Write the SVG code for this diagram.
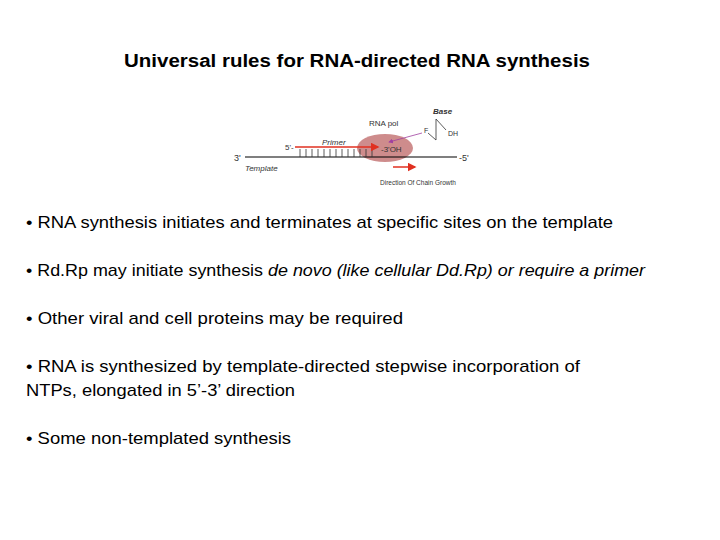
<svg xmlns="http://www.w3.org/2000/svg" width="720" height="540" viewBox="0 0 720 540">
<style>
.t{font-family:"Liberation Sans",Arial,sans-serif;font-size:17px;fill:#000}
.s{font-family:"Liberation Sans",Arial,sans-serif;fill:#333}
</style>
<defs>
<marker id="ar" markerWidth="6" markerHeight="6" refX="5" refY="3" orient="auto"><path d="M0,0L6,3L0,6z" fill="#e03020"/></marker>
<marker id="ap" markerWidth="6" markerHeight="6" refX="5" refY="3" orient="auto"><path d="M0,0L6,3L0,6z" fill="#a040a0"/></marker>
</defs>
<rect width="720" height="540" fill="#fff"/>
<text x="357" y="67" text-anchor="middle" font-family="Liberation Sans,Arial,sans-serif" font-weight="bold" font-size="18" textLength="466" lengthAdjust="spacingAndGlyphs">Universal rules for RNA-directed RNA synthesis</text>
<g id="figure">
<ellipse cx="385" cy="148" rx="28" ry="14" fill="#c98080" opacity="0.9"/>
<line x1="245" y1="157" x2="457" y2="157" stroke="#000" stroke-width="1.2"/>
<path d="M300,149v8M306,149v8M312,149v8M318,149v8M324,149v8M330,149v8M336,149v8M342,149v8M348,149v8M354,149v8M360,149v8M366,149v8M372,149v8" stroke="#333" stroke-width="0.8"/>
<line x1="295" y1="147" x2="378" y2="147" stroke="#e03020" stroke-width="1.5" marker-end="url(#ar)"/>
<line x1="393" y1="167" x2="415" y2="167" stroke="#e03020" stroke-width="1.5" marker-end="url(#ar)"/>
<line x1="422" y1="133" x2="389" y2="142" stroke="#a040a0" stroke-width="0.8" marker-end="url(#ap)"/>
<polyline points="446,130 436,119 436,140 428,133" fill="none" stroke="#333" stroke-width="0.8"/>
<text class="s" x="234" y="161" font-size="9">3'</text>
<text class="s" x="459" y="161" font-size="9">-5'</text>
<text class="s" x="285" y="150" font-size="8">5'-</text>
<text class="s" x="322" y="145" font-size="8" font-style="italic">Primer</text>
<text class="s" x="381" y="152" font-size="8">-3'OH</text>
<text class="s" x="369" y="126" font-size="8">RNA pol</text>
<text class="s" x="433" y="114" font-size="8" font-weight="bold" font-style="italic">Base</text>
<text class="s" x="424" y="133" font-size="7">F</text>
<text class="s" x="448" y="136" font-size="7">DH</text>
<text class="s" x="245" y="171" font-size="8" font-style="italic">Template</text>
<text class="s" x="380" y="185" font-size="6.5">Direction Of Chain Growth</text>
</g>
<text class="t" x="26" y="228" textLength="587" lengthAdjust="spacingAndGlyphs">• RNA synthesis initiates and terminates at specific sites on the template</text>
<text class="t" x="26" y="276" textLength="619" lengthAdjust="spacingAndGlyphs">• Rd.Rp may initiate synthesis <tspan font-style="italic">de novo (like cellular Dd.Rp) or require a primer</tspan></text>
<text class="t" x="26" y="324" textLength="377" lengthAdjust="spacingAndGlyphs">• Other viral and cell proteins may be required</text>
<text class="t" x="26" y="372" textLength="554" lengthAdjust="spacingAndGlyphs">• RNA is synthesized by template-directed stepwise incorporation of</text>
<text class="t" x="26" y="396" textLength="269" lengthAdjust="spacingAndGlyphs">NTPs, elongated in 5’-3’ direction</text>
<text class="t" x="26" y="444" textLength="265" lengthAdjust="spacingAndGlyphs">• Some non-templated synthesis</text>
</svg>
